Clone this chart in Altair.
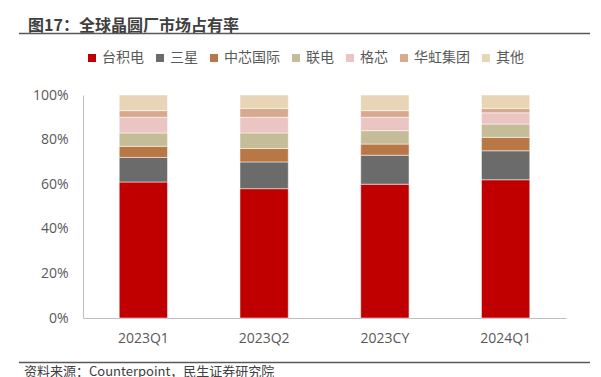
import altair as alt
import pandas as pd

periods = ["2023Q1", "2023Q2", "2023CY", "2024Q1"]
companies = ["台积电", "三星", "中芯国际", "联电", "格芯", "华虹集团", "其他"]
colors = ["#C00000", "#6B6B6B", "#BA7746", "#C4BD97", "#EBC4C4", "#D9A98F", "#E7D5B5"]
shares = {
    "台积电": [0.61, 0.58, 0.60, 0.62],
    "三星": [0.11, 0.12, 0.13, 0.13],
    "中芯国际": [0.05, 0.06, 0.05, 0.06],
    "联电": [0.06, 0.07, 0.06, 0.06],
    "格芯": [0.07, 0.07, 0.06, 0.05],
    "华虹集团": [0.03, 0.04, 0.03, 0.02],
    "其他": [0.07, 0.06, 0.07, 0.06],
}
title_text = "图17：全球晶圆厂市场占有率"
source_text = "资料来源：Counterpoint，民生证券研究院"

rows = []
for ci, c in enumerate(companies):
    for pi, p in enumerate(periods):
        rows.append({"period": p, "company": c, "share": shares[c][pi], "idx": ci})
df = pd.DataFrame(rows)

CJK = "Noto Sans CJK SC"
LAT = "Open Sans"
OX, OY = 83, 95  # plot origin in page pixels

bars = alt.Chart(df).mark_bar(stroke="white", strokeWidth=0.5).encode(
    x=alt.X("period:N", sort=periods, title=None,
            scale=alt.Scale(paddingInner=0.6, paddingOuter=0.3),
            axis=alt.Axis(labelAngle=0, ticks=False, labelPadding=13,
                          labelFont=LAT, labelFontSize=14, labelColor="#595959",
                          domainColor="#BFBFBF", domainWidth=1)),
    y=alt.Y("share:Q", stack="zero", title=None,
            scale=alt.Scale(domain=[0, 1]),
            axis=alt.Axis(values=[0, 0.2, 0.4, 0.6, 0.8, 1.0], format=".0%",
                          ticks=False, grid=False, labelPadding=15,
                          labelFont=LAT, labelFontSize=14, labelColor="#595959",
                          domainColor="#BFBFBF", domainWidth=1)),
    color=alt.Color("company:N", title=None,
                    scale=alt.Scale(domain=companies, range=colors),
                    legend=alt.Legend(orient="none", direction="horizontal",
                                      legendX=2, legendY=-44, padding=0,
                                      symbolType="square", symbolSize=64,
                                      symbolStrokeWidth=0, labelOffset=3,
                                      columnPadding=9,
                                      labelFont=CJK, labelFontSize=14,
                                      labelColor="#595959")),
    order=alt.Order("idx:Q", sort="ascending"),
)

one = pd.DataFrame([{"a": 1}])

title = alt.Chart(one).mark_text(
    text=title_text, font=CJK, fontSize=16, fontWeight="bold",
    align="left", baseline="alphabetic", color="#404040",
).encode(x=alt.value(28 - OX), y=alt.value(31 - OY))

top_line = alt.Chart(one).mark_rule(color="#595959", strokeWidth=1.5).encode(
    x=alt.value(19 - OX), x2=alt.value(590 - OX), y=alt.value(33.5 - OY))

bottom_line = alt.Chart(one).mark_rule(color="#595959", strokeWidth=1.5).encode(
    x=alt.value(19 - OX), x2=alt.value(590 - OX), y=alt.value(362.5 - OY))

source = alt.Chart(one).mark_text(
    text=source_text, font=CJK, fontSize=13, align="left", baseline="top",
    color="#404040",
).encode(x=alt.value(24 - OX), y=alt.value(366 - OY))

chart = alt.layer(bars, title, top_line, bottom_line, source).properties(
    width=483, height=223,
    autosize=alt.AutoSizeParams(type="none"),
    padding={"left": OX, "top": OY, "right": 601 - OX - 483, "bottom": 377 - OY - 223},
).configure_view(stroke=None)

chart.save("out.html", embed_options={"renderer": "svg", "actions": False})
